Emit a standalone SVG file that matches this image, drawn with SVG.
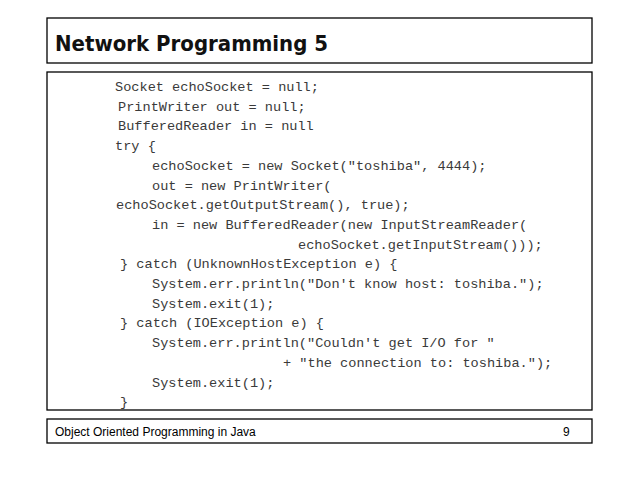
<svg xmlns="http://www.w3.org/2000/svg" width="638" height="479" viewBox="0 0 638 479">
<style>
.box{fill:#fff;stroke:#000;stroke-width:1.3}
.code{font-family:"Liberation Mono",monospace;font-size:13.6px;fill:#3a3a3a;white-space:pre}
.foot{font-family:"Liberation Sans",Arial,sans-serif;font-size:12px;fill:#000}
</style>
<rect width="638" height="479" fill="#fff"/>
<g id="title"><rect class="box" x="47" y="18" width="545" height="45"/>
<text x="55" y="51" font-family="DejaVu Sans,sans-serif" font-weight="bold" font-size="22" textLength="273" lengthAdjust="spacingAndGlyphs" fill="#111">Network Programming 5</text></g>
<g id="code"><rect class="box" x="47" y="72" width="545" height="338"/>
<text class="code" x="115" y="91">Socket echoSocket = null;</text>
<text class="code" x="118" y="110.7">PrintWriter out = null;</text>
<text class="code" x="118" y="130.4">BufferedReader in = null</text>
<text class="code" x="115" y="150.1">try {</text>
<text class="code" x="152" y="169.8">echoSocket = new Socket("toshiba", 4444);</text>
<text class="code" x="152" y="189.5">out = new PrintWriter(</text>
<text class="code" x="116" y="209.2">echoSocket.getOutputStream(), true);</text>
<text class="code" x="152" y="228.9">in = new BufferedReader(new InputStreamReader(</text>
<text class="code" x="298" y="248.6">echoSocket.getInputStream()));</text>
<text class="code" x="120" y="268.3">} catch (UnknownHostException e) {</text>
<text class="code" x="152" y="288">System.err.println("Don't know host: toshiba.");</text>
<text class="code" x="152" y="307.7">System.exit(1);</text>
<text class="code" x="120" y="327.4">} catch (IOException e) {</text>
<text class="code" x="152" y="347.1">System.err.println("Couldn't get I/O for "</text>
<text class="code" x="283" y="366.8">+ "the connection to: toshiba.");</text>
<text class="code" x="152" y="386.5">System.exit(1);</text>
<text class="code" x="120" y="406">}</text></g>
<g id="footer"><rect class="box" x="47" y="419" width="545" height="24"/>
<text class="foot" x="55" y="436">Object Oriented Programming in Java</text>
<text class="foot" x="563" y="436">9</text></g>
</svg>
